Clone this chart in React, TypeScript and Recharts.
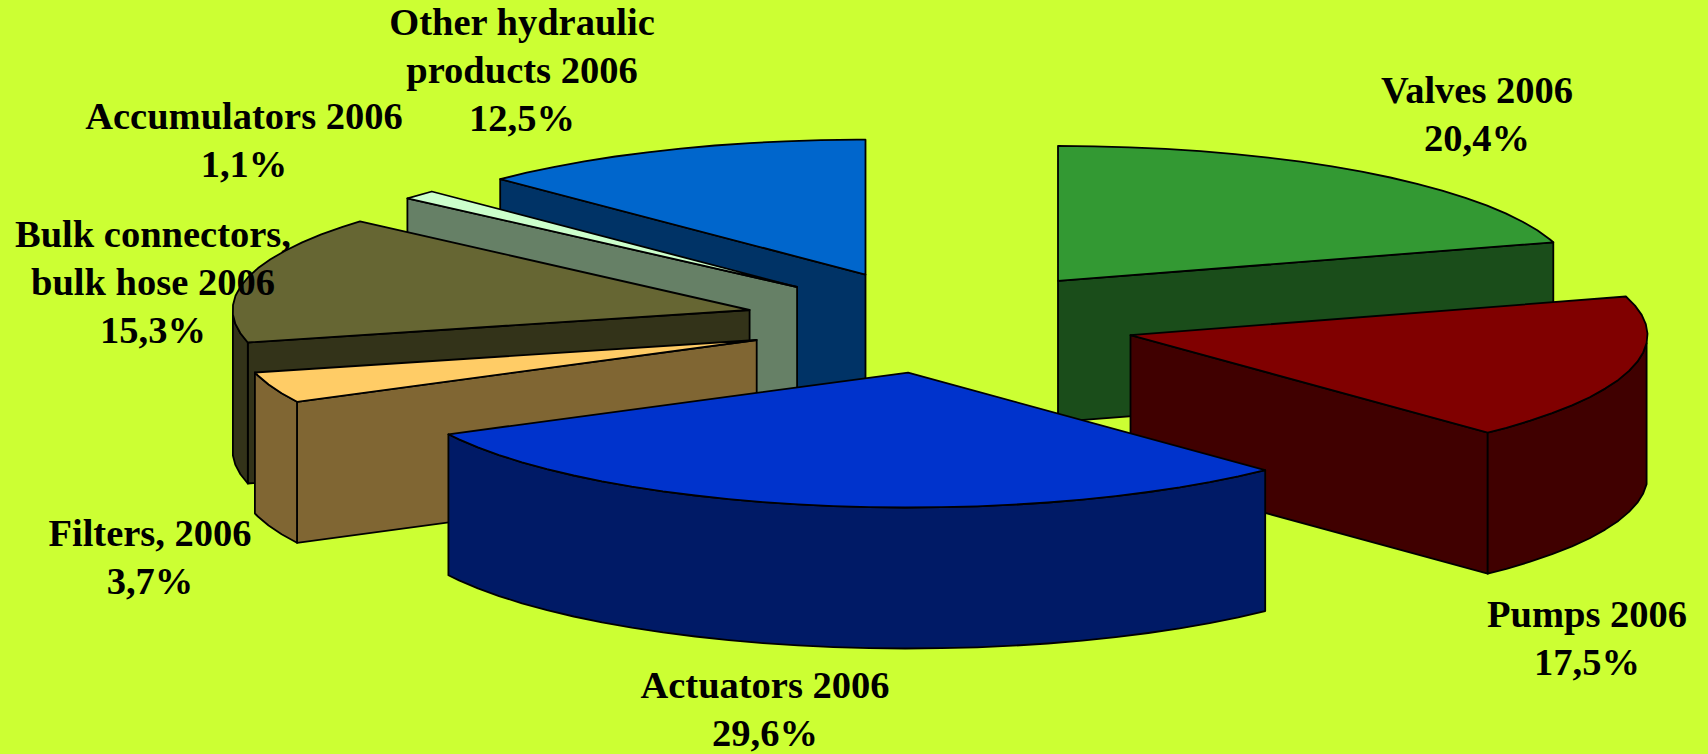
import React from 'react';
import { PieChart, Pie } from 'recharts';

const names = [
  'Valves 2006',
  'Pumps 2006',
  'Actuators 2006',
  'Filters, 2006',
  'Bulk connectors, bulk hose 2006',
  'Accumulators 2006',
  'Other hydraulic products 2006',
];
const shares = [20.4, 17.5, 29.6, 3.7, 15.3, 1.1, 12.5];
const topColors = ['#339933', '#800000', '#0033CC', '#FFCC66', '#666633', '#CCFFCC', '#0066CC'];
const wallColors = ['#1A4D1A', '#400000', '#001A66', '#806633', '#333319', '#668066', '#003366'];

// back to front, the slices overlap each other in this order
const drawOrder = [0, 6, 5, 4, 3, 1, 2];

const labelLines = [
  ['Valves 2006'],
  ['Pumps 2006'],
  ['Actuators 2006'],
  ['Filters, 2006'],
  ['Bulk connectors,', 'bulk hose 2006'],
  ['Accumulators 2006'],
  ['Other hydraulic', 'products 2006'],
];
// centre x and first baseline of every label
const labelSpots = [
  [1477, 103],
  [1587, 627],
  [765, 698],
  [150, 546],
  [153, 247],
  [244, 129],
  [522, 35],
];

const WIDTH = 1708;
const HEIGHT = 754;
const CX = 940.6;
const CY = 322;
const RX = 517;
const TILT = 0.261;
const DEPTH = 141;
const EXPLODE = 0.38;
const FACET = 4;

const rad = (deg: number) => (deg * Math.PI) / 180;
const pts = (list: number[][]) => list.map(p => `${p[0].toFixed(1)},${p[1].toFixed(1)}`).join(' ');

const chartData = names.map((name, i) => ({ name, value: shares[i] }));

// Recharts hands over the angles, the wedge is then laid flat and extruded
const Slice = ({ startAngle, endAngle, cx, cy, outerRadius, index }: any) => {
  const from = 90 - startAngle;
  const to = 90 - endAngle;
  const mid = (from + to) / 2;
  const ry = outerRadius * TILT;
  const ax = cx + EXPLODE * outerRadius * Math.sin(rad(mid));
  const ay = cy - EXPLODE * ry * Math.cos(rad(mid));
  const rim = (t: number) => [ax + outerRadius * Math.sin(rad(t)), ay - ry * Math.cos(rad(t))];
  const down = (p: number[]) => [p[0], p[1] + DEPTH];

  const angles: number[] = [];
  for (let t = from; t < to; t += FACET) angles.push(t);
  angles.push(to);

  const front = angles.filter(t => t >= 90 && t <= 270);
  const stroke = { stroke: '#000', strokeWidth: 1.8, strokeLinejoin: 'round' as const };
  const wall = wallColors[index];
  const apex = [ax, ay];

  const edge = (t: number) => (
    <polygon points={pts([apex, rim(t), down(rim(t)), down(apex)])} fill={wall} {...stroke} />
  );

  return (
    <g>
      {Math.sin(rad(from)) < 0 && edge(from)}
      {Math.sin(rad(to)) > 0 && edge(to)}
      {front.length > 1 && (
        <polygon
          points={pts([...front.map(rim), ...front.slice().reverse().map(t => down(rim(t)))])}
          fill={wall}
          {...stroke}
        />
      )}
      <polygon points={pts([apex, ...angles.map(rim)])} fill={topColors[index]} {...stroke} />
    </g>
  );
};

const renderLabel = ({ index }: any) => {
  const [x, y] = labelSpots[index];
  const rows = [...labelLines[index], `${shares[index].toFixed(1).replace('.', ',')}%`];
  return (
    <text
      key={names[index]}
      textAnchor="middle"
      fill="#000"
      fontFamily="'Liberation Serif', serif"
      fontWeight={700}
      fontSize={38.5}
    >
      {rows.map((row, r) => (
        <tspan key={row} x={x} y={y + r * 48}>
          {row}
        </tspan>
      ))}
    </text>
  );
};

export default function App() {
  return (
    <div style={{ position: 'absolute', left: 0, top: 0, width: WIDTH, height: HEIGHT, background: '#CCFF33' }}>
      <PieChart width={WIDTH} height={HEIGHT} margin={{ top: 0, right: 0, bottom: 0, left: 0 }}>
        {drawOrder.map((sliceIndex, layer) => (
          <Pie
            key={names[sliceIndex]}
            data={chartData}
            dataKey="value"
            nameKey="name"
            cx={CX}
            cy={CY}
            innerRadius={0}
            outerRadius={RX}
            startAngle={90}
            endAngle={-270}
            isAnimationActive={false}
            labelLine={false}
            label={layer === drawOrder.length - 1 ? renderLabel : false}
            shape={(props: any) =>
              props.index === sliceIndex ? <Slice {...props} index={sliceIndex} /> : <g />
            }
          />
        ))}
      </PieChart>
    </div>
  );
}
